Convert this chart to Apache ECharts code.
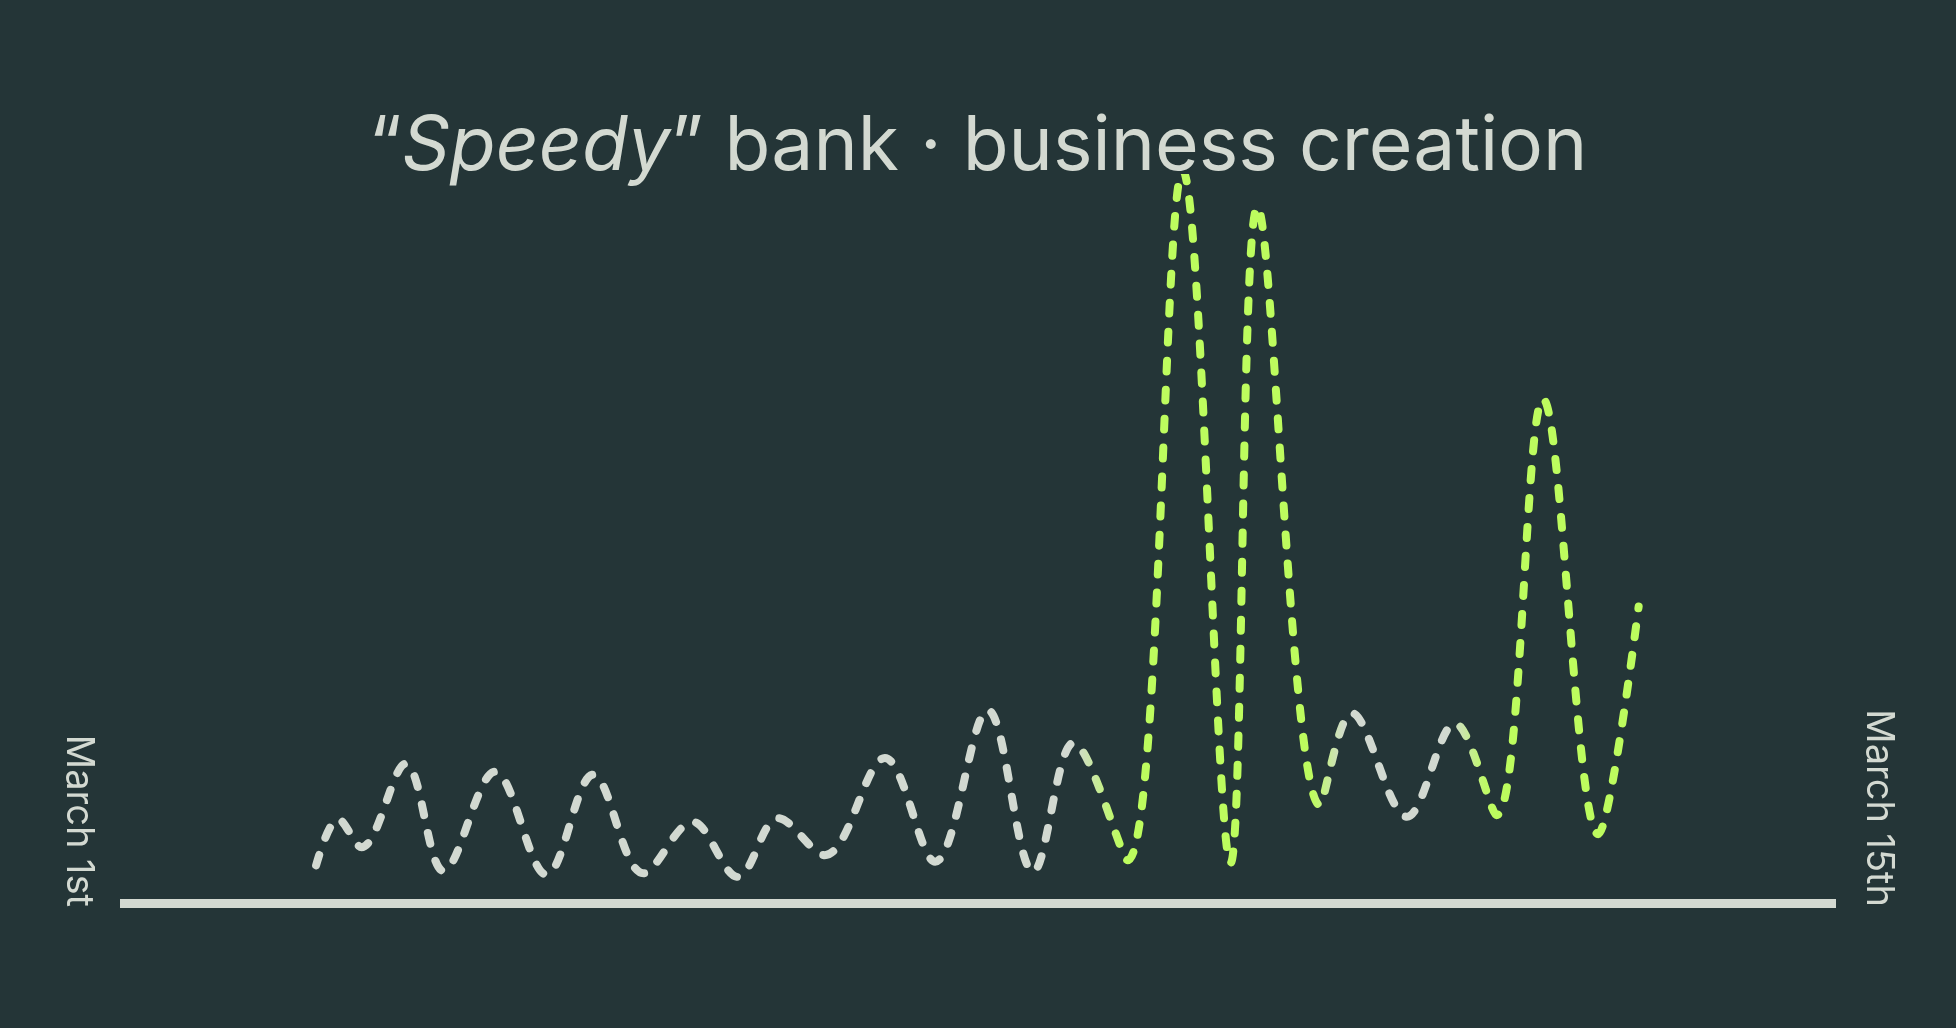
<!DOCTYPE html>
<html>
<head>
<meta charset="utf-8">
<script src="https://cdn.jsdelivr.net/npm/echarts@6/dist/echarts.min.js"></script>
<style>
  html, body { margin: 0; padding: 0; background: #243537; }
  #chart { width: 1956px; height: 1028px; }
</style>
</head>
<body>
<div id="chart"></div>
<script>
  // days after March 1st
  var dayOffsets = [1.60, 1.78, 1.97, 2.33, 2.64, 3.06, 3.48, 3.86, 4.27, 4.67,
                    5.04, 5.37, 5.75, 6.24, 6.65, 7.08, 7.45, 7.78, 8.22, 8.67,
                    9.06, 9.28, 9.79, 10.05, 10.50, 10.89, 11.23, 11.61, 12.06, 12.39];
  // businesses created (relative)
  var counts = [5.2, 11.6, 7.7, 19.2, 4.4, 18.1, 3.9, 17.7, 4.1, 11.2,
                3.6, 11.7, 6.6, 20.0, 5.7, 26.6, 4.3, 22.1, 5.9, 101,
                5.5, 96.0, 13.5, 26.2, 11.9, 24.8, 12.1, 69.5, 9.5, 40.9];
  var tickLabels = ['March 1st', 'March 15th'];
  // how "speedy" (green) the line is along the timeline: [day, 0..1]
  var speedyStops = [[0, 0], [7.79, 0], [8.16, 1], [9.73, 1], [9.99, 0],
                     [10.85, 0], [11.16, 1], [14, 1]];

  var WHITE = [210, 217, 209];
  var GREEN = [189, 252, 94];

  function mix(a, b, t) {
    return 'rgb(' + a.map(function (v, i) { return Math.round(v + (b[i] - v) * t); }).join(',') + ')';
  }
  function greenness(d) {
    for (var i = 1; i < speedyStops.length; i++) {
      var p = speedyStops[i - 1], q = speedyStops[i];
      if (d <= q[0]) {
        return p[1] + (q[1] - p[1]) * (d - p[0]) / (q[0] - p[0]);
      }
    }
    return speedyStops[speedyStops.length - 1][1];
  }
  var lineColors = [];
  for (var d = 0; d <= 14.0001; d += 0.02) {
    lineColors.push(mix(WHITE, GREEN, greenness(d)));
  }

  var chart = echarts.init(document.getElementById('chart'));
  var labelFont = '"Inter", "Liberation Sans", sans-serif';

  var option = {
    backgroundColor: '#243537',
    animation: false,
    title: {
      text: '“{i|Speedy}” bank · business creation',
      left: 'center',
      top: 105,
      textStyle: {
        color: '#d3d9d1',
        fontFamily: labelFont,
        fontSize: 75,
        fontWeight: 400,
        rich: {
          i: {
            color: '#d3d9d1',
            fontFamily: labelFont,
            fontSize: 75,
            fontStyle: 'italic'
          }
        }
      }
    },
    grid: {
      left: 120,
      right: 120,
      top: 178,
      bottom: 125
    },
    xAxis: {
      type: 'value',
      min: 0,
      max: 14,
      axisLine: { show: true, lineStyle: { color: '#d3d9d1', width: 9, cap: 'butt' } },
      axisTick: { show: false },
      axisLabel: { show: false },
      splitLine: { show: false }
    },
    yAxis: {
      type: 'value',
      min: 0,
      max: 100,
      show: false
    },
    visualMap: {
      type: 'continuous',
      show: false,
      dimension: 0,
      min: 0,
      max: 14,
      inRange: { color: lineColors }
    },
    series: [
      {
        type: 'line',
        smooth: 0.35,
        showSymbol: false,
        clip: true,
        lineStyle: {
          width: 8,
          type: [11, 18],
          cap: 'round'
        },
        data: dayOffsets.map(function (d, i) { return [d, counts[i]]; })
      }
    ],
    graphic: [
      {
        type: 'text',
        x: 78,
        y: 907,
        rotation: -Math.PI / 2,
        style: {
          text: tickLabels[0],
          fill: '#d3d9d1',
          font: '38px ' + labelFont,
          align: 'right',
          verticalAlign: 'middle'
        }
      },
      {
        type: 'text',
        x: 1878,
        y: 907,
        rotation: -Math.PI / 2,
        style: {
          text: tickLabels[1],
          fill: '#d3d9d1',
          font: '38px ' + labelFont,
          align: 'right',
          verticalAlign: 'middle'
        }
      }
    ]
  };

  chart.setOption(option);
</script>
</body>
</html>
